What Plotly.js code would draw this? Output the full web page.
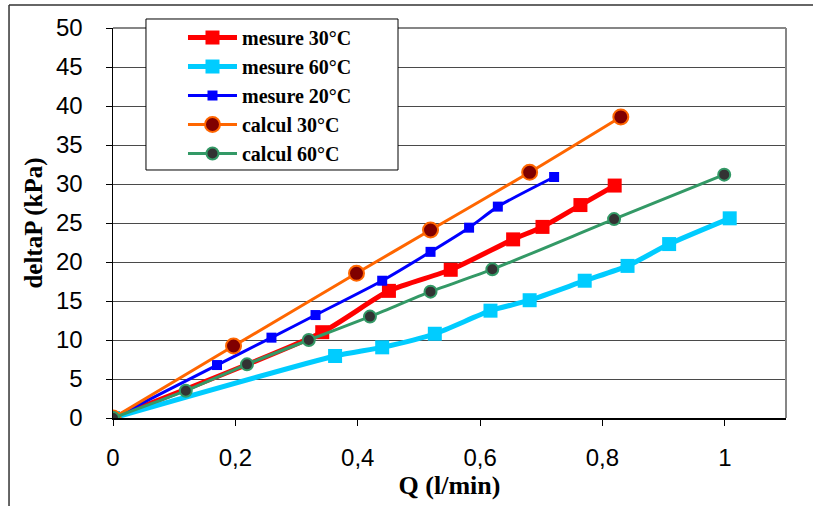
<!DOCTYPE html>
<html>
<head>
<meta charset="utf-8">
<script src="https://cdn.plot.ly/plotly-3.0.1.min.js"></script>
<style>
html, body { margin: 0; padding: 0; background: #fff; }
#chart { width: 813px; height: 506px; }
</style>
</head>
<body>
<div id="chart"></div>
<script>
// Data
const q30m  = [0, 0.342, 0.451, 0.552, 0.654, 0.702, 0.764, 0.820];
const dp30m = [0, 11.0, 16.3, 19.0, 22.9, 24.5, 27.3, 29.8];

const q60m  = [0, 0.363, 0.440, 0.526, 0.617, 0.681, 0.771, 0.841, 0.909, 1.008];
const dp60m = [0, 7.95, 9.06, 10.8, 13.76, 15.1, 17.6, 19.5, 22.3, 25.6];

const q20m  = [0, 0.170, 0.259, 0.331, 0.440, 0.519, 0.582, 0.629, 0.721];
const dp20m = [0, 6.79, 10.3, 13.2, 17.6, 21.3, 24.4, 27.1, 30.9];

const q30c  = [0, 0.197, 0.398, 0.519, 0.681, 0.830];
const dp30c = [0, 9.23, 18.55, 24.1, 31.5, 38.6];

const q60c  = [0, 0.119, 0.219, 0.320, 0.420, 0.519, 0.620, 0.819, 0.999];
const dp60c = [0, 3.5, 6.88, 10.0, 13.0, 16.2, 19.06, 25.5, 31.2];

const seriesNames = ['mesure 30°C', 'mesure 60°C', 'mesure 20°C', 'calcul 30°C', 'calcul 60°C'];

const serif = '"Liberation Serif", "DejaVu Serif", serif';
const sans = '"Liberation Sans", Arial, sans-serif';

const traces = [
  { x: q30m, y: dp30m, name: seriesNames[0], mode: 'lines+markers',
    line: { color: '#FF0000', width: 5, shape: 'spline', smoothing: 0.6 },
    marker: { symbol: 'square', size: 14, color: '#FF0000' } },
  { x: q60m, y: dp60m, name: seriesNames[1], mode: 'lines+markers',
    line: { color: '#00CCFF', width: 5, shape: 'spline', smoothing: 0.6 },
    marker: { symbol: 'square', size: 14, color: '#00CCFF' } },
  { x: q20m, y: dp20m, name: seriesNames[2], mode: 'lines+markers',
    line: { color: '#0000FF', width: 3, shape: 'spline', smoothing: 0.6 },
    marker: { symbol: 'square', size: 10, color: '#0000FF' } },
  { x: q30c, y: dp30c, name: seriesNames[3], mode: 'lines+markers',
    line: { color: '#FF6600', width: 3, shape: 'spline', smoothing: 0.6 },
    marker: { symbol: 'circle', size: 15, color: '#800000', line: { color: '#FF6600', width: 2 } } },
  { x: q60c, y: dp60c, name: seriesNames[4], mode: 'lines+markers',
    line: { color: '#339966', width: 3, shape: 'spline', smoothing: 0.6 },
    marker: { symbol: 'circle', size: 12, color: '#333333', line: { color: '#339966', width: 2 } } }
];

const layout = {
  width: 813, height: 506,
  margin: { l: 113, r: 27, t: 28, b: 88, pad: 0 },
  paper_bgcolor: '#ffffff', plot_bgcolor: '#ffffff',
  separators: ', ',
  showlegend: true,
  legend: {
    x: 0.104, y: 1.0256, xanchor: 'left', yanchor: 'top',
    bgcolor: 'rgba(0,0,0,0)', borderwidth: 0,
    font: { family: serif, size: 20, color: '#000000', weight: 'bold' },
    itemwidth: 49
  },
  xaxis: {
    range: [0, 1.1], dtick: 0.2, tick0: 0,
    showgrid: false, zeroline: false,
    showline: true, linecolor: '#000000', linewidth: 1.5,
    ticks: 'outside', ticklen: 6, tickcolor: '#000000', tickwidth: 1,
    ticklabelstandoff: 12,
    tickfont: { family: sans, size: 24, color: '#000000' },
    title: { text: 'Q (l/min)', font: { family: serif, size: 26, color: '#000000', weight: 'bold' }, standoff: 2 }
  },
  yaxis: {
    range: [0, 50], dtick: 5, tick0: 0,
    showgrid: true, gridcolor: '#4a4a4a', gridwidth: 1,
    zeroline: false,
    showline: true, linecolor: '#000000', linewidth: 1.5,
    ticks: 'outside', ticklen: 6, tickcolor: '#000000', tickwidth: 1,
    ticklabelstandoff: 18,
    tickfont: { family: sans, size: 24, color: '#000000' },
    title: { text: 'deltaP (kPa)', font: { family: serif, size: 25, color: '#000000', weight: 'bold' }, standoff: 6 }
  },
  shapes: [
    { type: 'line', xref: 'paper', yref: 'paper', x0: 0, x1: 1, y0: 1, y1: 1, line: { color: '#868686', width: 2 } },
    { type: 'line', xref: 'paper', yref: 'paper', x0: 1, x1: 1, y0: 0, y1: 1, line: { color: '#868686', width: 2 } },
    { type: 'line', xref: 'paper', yref: 'paper', x0: -0.1545, x1: -0.1545, y0: -0.3, y1: 1.059, line: { color: '#333333', width: 1.5 } },
    { type: 'line', xref: 'paper', yref: 'paper', x0: -0.1545, x1: 1.1, y0: 1.059, y1: 1.059, line: { color: '#333333', width: 1.5 } },
    { type: 'rect', xref: 'paper', yref: 'paper', layer: 'above',
      x0: 0.0490, x1: 0.4235, y0: 0.6359, y1: 1.0231,
      fillcolor: '#ffffff', line: { color: '#000000', width: 1 } }
  ]
};

Plotly.newPlot('chart', traces, layout, { displayModeBar: false, staticPlot: true });
</script>
</body>
</html>
